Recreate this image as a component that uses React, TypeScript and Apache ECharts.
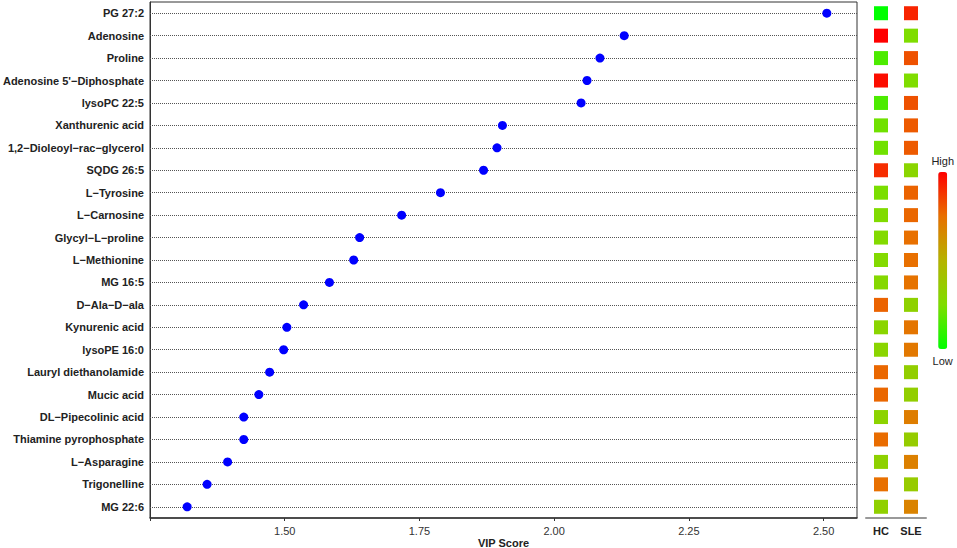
import React, { useEffect, useRef } from "react";
import * as echarts from "echarts";

const metabolites = [
  "PG 27:2", "Adenosine", "Proline", "Adenosine 5'\u2212Diphosphate", "lysoPC 22:5",
  "Xanthurenic acid", "1,2\u2212Dioleoyl\u2212rac\u2212glycerol", "SQDG 26:5", "L\u2212Tyrosine",
  "L\u2212Carnosine", "Glycyl\u2212L\u2212proline", "L\u2212Methionine", "MG 16:5", "D\u2212Ala\u2212D\u2212ala",
  "Kynurenic acid", "lysoPE 16:0", "Lauryl diethanolamide", "Mucic acid", "DL\u2212Pipecolinic acid",
  "Thiamine pyrophosphate", "L\u2212Asparagine", "Trigonelline", "MG 22:6",
];

const vipScores = [
  2.506, 2.13, 2.085, 2.061, 2.05, 1.904, 1.894, 1.869, 1.789, 1.717, 1.639, 1.628,
  1.583, 1.535, 1.504, 1.498, 1.472, 1.452, 1.424, 1.424, 1.394, 1.356, 1.319,
];

const groups = ["HC", "SLE"];

const hcLevels = [
  0.0, 1.0, 0.15, 0.97, 0.15, 0.22, 0.22, 0.9, 0.24, 0.26, 0.27, 0.27,
  0.28, 0.78, 0.3, 0.3, 0.77, 0.77, 0.31, 0.76, 0.32, 0.75, 0.33,
];
const sleLevels = [
  0.92, 0.25, 0.82, 0.25, 0.82, 0.8, 0.8, 0.3, 0.78, 0.77, 0.75, 0.75,
  0.74, 0.32, 0.73, 0.72, 0.34, 0.34, 0.7, 0.35, 0.69, 0.36, 0.68,
];

const xTicks = [1.5, 1.75, 2.0, 2.25, 2.5];

const FONT = "'Liberation Sans', Arial, sans-serif";

export default function App() {
  const ref = useRef<HTMLDivElement>(null);

  useEffect(() => {
    if (!ref.current) return;
    const chart = echarts.init(ref.current, null, { renderer: "svg" });

    const heatData: any[] = [];
    metabolites.forEach((m, i) => {
      heatData.push([groups[0], m, hcLevels[i]]);
      heatData.push([groups[1], m, sleLevels[i]]);
    });

    chart.setOption({
      animation: false,
      backgroundColor: "#ffffff",
      grid: [
        {
          left: 150, right: 100, top: 2, bottom: 30,
          show: true, borderColor: "#333", borderWidth: 1, backgroundColor: "transparent",
          outerBoundsMode: "none", containLabel: false,
        },
        { left: 866, width: 60, top: 2, bottom: 30, outerBoundsMode: "none", containLabel: false },
      ],
      xAxis: [
        {
          type: "value",
          gridIndex: 0,
          min: 1.25,
          max: 2.562,
          interval: 0.25,
          name: "VIP Score",
          nameLocation: "middle",
          nameGap: 19,
          nameMoveOverlap: false,
          nameTextStyle: { fontFamily: FONT, fontWeight: "bold", fontSize: 11, color: "#222" },
          axisLine: { show: true, lineStyle: { color: "#333", width: 1.5 } },
          axisTick: { show: true, length: 3, lineStyle: { color: "#333" } },
          splitLine: { show: false },
          axisLabel: {
            fontFamily: FONT,
            fontSize: 11,
            color: "#333",
            margin: 7,
            showMaxLabel: false,
            formatter: (v: number) => {
              const hit = xTicks.find((t) => Math.abs(t - v) < 1e-6);
              return hit !== undefined ? hit.toFixed(2) : "";
            },
          },
        },
        {
          type: "category",
          gridIndex: 1,
          data: groups,
          axisLine: { show: true, lineStyle: { color: "#999", width: 2 } },
          axisTick: { show: false },
          axisLabel: { fontFamily: FONT, fontSize: 11, fontWeight: "bold", color: "#222", margin: 7 },
          splitLine: { show: false },
        },
      ],
      yAxis: [
        {
          type: "category",
          gridIndex: 0,
          data: metabolites,
          inverse: true,
          axisLine: { show: true, lineStyle: { color: "#333" } },
          axisTick: { show: false },
          axisLabel: { fontFamily: FONT, fontSize: 11, fontWeight: "bold", color: "#222", margin: 6 },
          splitLine: { show: false },
        },
        {
          type: "category",
          gridIndex: 1,
          data: metabolites,
          inverse: true,
          show: false,
        },
      ],
      visualMap: {
        type: "continuous",
        seriesIndex: 1,
        dimension: 2,
        min: 0,
        max: 1,
        calculable: false,
        orient: "vertical",
        right: -12,
        top: 140,
        itemWidth: 9,
        itemHeight: 177,
        text: ["High", "Low"],
        textGap: 6,
        textStyle: { fontFamily: FONT, fontSize: 11, color: "#222" },
        inRange: { color: ["#00ff00", "#7fdd00", "#b5b300", "#e87000", "#ff0000"] },
      },
      series: [
        {
          type: "scatter",
          xAxisIndex: 0,
          yAxisIndex: 0,
          data: vipScores.map((v, i) => [v, metabolites[i]]),
          symbol: "circle",
          symbolSize: 9,
          itemStyle: { color: "#0000ff", opacity: 1 },
          z: 5,
          markLine: {
            silent: true,
            symbol: "none",
            label: { show: false },
            lineStyle: { type: "dotted", color: "#555", width: 1 },
            data: metabolites.map((m) => ({ yAxis: m })),
          },
        },
        {
          type: "scatter",
          xAxisIndex: 1,
          yAxisIndex: 1,
          data: heatData,
          symbol: "rect",
          symbolSize: 14,
          itemStyle: { opacity: 1 },
        },
      ],
    });

    return () => chart.dispose();
  }, []);

  return (
    <div
      ref={ref}
      style={{ position: "fixed", left: 0, top: 0, width: 957, height: 548 }}
    />
  );
}
